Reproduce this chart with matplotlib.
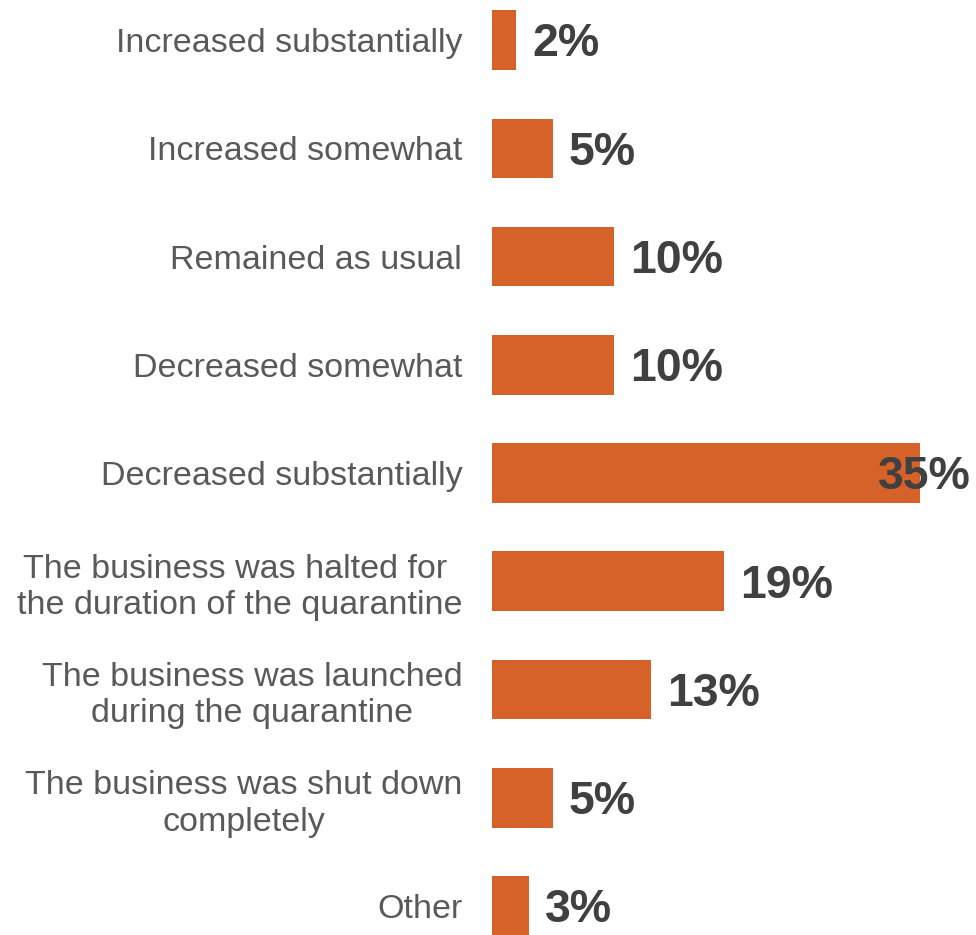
import matplotlib
matplotlib.use("Agg")
import matplotlib.pyplot as plt

categories = [
    "Increased substantially",
    "Increased somewhat",
    "Remained as usual",
    "Decreased somewhat",
    "Decreased substantially",
    "The business was halted for \nthe duration of the quarantine",
    "The business was launched\nduring the quarantine",
    "The business was shut down\ncompletely",
    "Other",
]
values = [2, 5, 10, 10, 35, 19, 13, 5, 3]
value_labels = ["2%", "5%", "10%", "10%", "35%", "19%", "13%", "5%", "3%"]

BAR_COLOR = "#D6622A"
LABEL_COLOR = "#404040"
CAT_COLOR = "#595959"

plt.rcParams["font.family"] = ["Liberation Sans", "DejaVu Sans"]

W, H = 976, 935
fig = plt.figure(figsize=(W / 100, H / 100), dpi=100)
ax_left, ax_right = 492, 970
ax = fig.add_axes([ax_left / W, 0, (ax_right - ax_left) / W, 1])

pos = list(range(len(categories)))
ax.barh(pos, values, height=0.55, color=BAR_COLOR)

xmax = 39.1
ax.set_xlim(0, xmax)
ax.set_ylim(8.268, -0.37)

ax.set_yticks(pos)
ax.set_yticklabels(categories, fontsize=24.5, color=CAT_COLOR,
                   multialignment="center", linespacing=1.22)
ax.tick_params(axis="y", length=0, pad=21.5)
ax.set_xticks([])
for s in ax.spines.values():
    s.set_visible(False)

fig.canvas.draw()
renderer = fig.canvas.get_renderer()
for p, v, lab in zip(pos, values, value_labels):
    t = ax.text(v + 1.3, p + 0.04, lab, fontsize=33.5, fontweight="bold",
                color=LABEL_COLOR, va="center", ha="left")
    bb = t.get_window_extent(renderer)
    if bb.x1 > W - 4:
        t.set_x(xmax + 0.1)
        t.set_ha("right")

fig.savefig("out.png", dpi=100)
